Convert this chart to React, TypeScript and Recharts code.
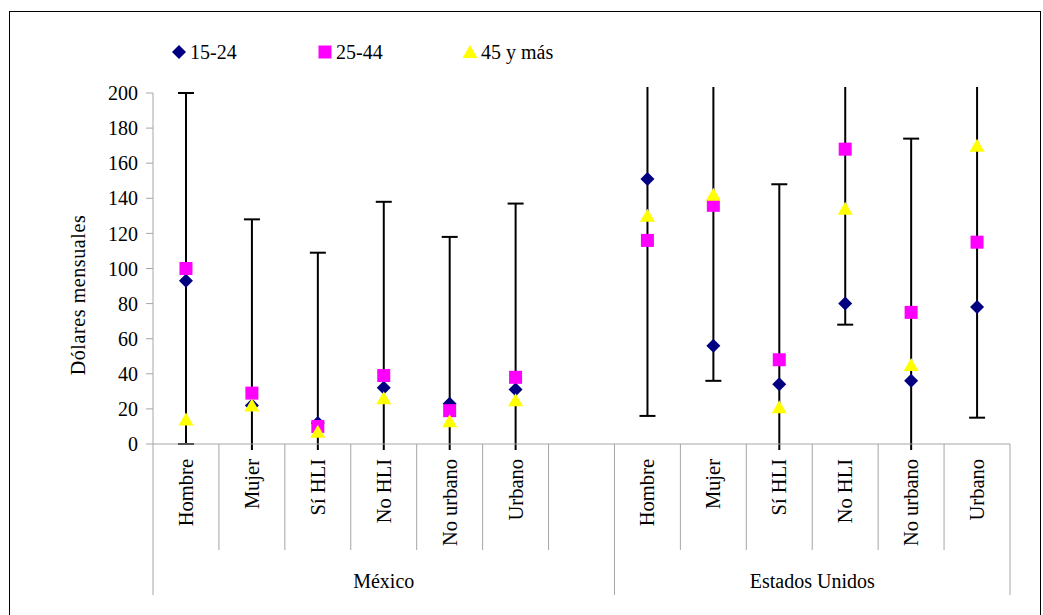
import { Bar, ComposedChart, Label, Legend, Line, XAxis, YAxis } from "recharts"

// categories along the bottom, two country groups with a blank slot between them
const groupNames = ["México", "Estados Unidos"]
const categories = ["Hombre", "Mujer", "Sí HLI", "No HLI", "No urbano", "Urbano"]
const slotLabels = [...categories, "", ...categories]
const slotGroup = [0, 0, 0, 0, 0, 0, 0, 1, 1, 1, 1, 1, 1]
const groupStart = [0, 7]
const groupSlots = [7, 6]

// dólares mensuales by age group
const age1524 = [93, 22, 12, 32, 23, 31, null, 151, 56, 34, 80, 36, 78]
const age2544 = [100, 29, 10, 39, 19, 38, null, 116, 136, 48, 168, 75, 115]
const age45 = [14, 22, 7, 26, 13, 25, null, 130, 142, 21, 134, 45, 170]

// range bars (low / high); values outside 0-200 run off the plot
const errLow = [0, -15, -15, -15, -15, -15, null, 16, 36, -15, 68, -15, 15]
const errHigh = [200, 128, 109, 138, 118, 137, null, 230, 230, 148, 230, 174, 230]

const yTicks = [0, 20, 40, 60, 80, 100, 120, 140, 160, 180, 200]
const Y_MIN = 0
const Y_MAX = 200

const FONT = "Liberation Serif, Times New Roman, serif"
const AXIS_GRAY = "#a6a6a6"

const series = [
  { key: "a", name: "15-24", color: "#000080", shape: "diamond" },
  { key: "b", name: "25-44", color: "#ff00ff", shape: "square" },
  { key: "c", name: "45 y más", color: "#ffff00", shape: "triangle" },
]

const data = slotLabels.map((label, i) => {
  const lo = errLow[i]
  const hi = errHigh[i]
  return {
    key: `slot${i}`,
    label,
    a: age1524[i],
    b: age2544[i],
    c: age45[i],
    err: lo === null || hi === null ? null : [Math.max(lo, Y_MIN), Math.min(hi, Y_MAX)],
    loOpen: lo !== null && lo < Y_MIN,
    hiOpen: hi !== null && hi > Y_MAX,
  }
})

function marker(shape: string, cx: number, cy: number, color: string) {
  if (shape === "diamond") {
    return <path d={`M${cx},${cy - 7} L${cx + 7},${cy} L${cx},${cy + 7} L${cx - 7},${cy} Z`} fill={color} />
  }
  if (shape === "square") {
    return <rect x={cx - 6.5} y={cy - 6.5} width={13} height={13} fill={color} />
  }
  return <path d={`M${cx},${cy - 7} L${cx + 7.5},${cy + 6} L${cx - 7.5},${cy + 6} Z`} fill={color} />
}

const makeDot = (shape: string, color: string) => (props: any) => {
  const { cx, cy, value, index } = props
  if (value === null || value === undefined || cx == null || cy == null) return <g key={index} />
  return <g key={index}>{marker(shape, cx, cy, color)}</g>
}

function RangeShape(props: any) {
  const { x, y, width, height, payload } = props
  if (!payload || payload.err === null || height == null) return <g />
  const cx = x + width / 2
  const top = payload.hiOpen ? y - 6 : y
  const bottom = payload.loOpen ? y + height + 6 : y + height
  return (
    <g>
      <line x1={cx} x2={cx} y1={top} y2={bottom} stroke="#000" strokeWidth={2} />
      {!payload.hiOpen && <line x1={cx - 8} x2={cx + 8} y1={y} y2={y} stroke="#000" strokeWidth={2} />}
      {!payload.loOpen && <line x1={cx - 8} x2={cx + 8} y1={y + height} y2={y + height} stroke="#000" strokeWidth={2} />}
    </g>
  )
}

function CategoryTick(props: any) {
  const { x, y, payload } = props
  const i = payload.index ?? props.index
  const off = payload.offset ?? 33
  const g = slotGroup[i]
  const isStart = groupStart[g] === i
  const isLast = i === slotLabels.length - 1
  return (
    <g>
      <line x1={x - off} x2={x - off} y1={y} y2={y + (isStart ? 151 : 106)} stroke={AXIS_GRAY} />
      {isLast && <line x1={x + off} x2={x + off} y1={y} y2={y + 151} stroke={AXIS_GRAY} />}
      {slotLabels[i] && (
        <text
          transform={`translate(${x + 7}, ${y + 15}) rotate(-90)`}
          textAnchor="end"
          fontFamily={FONT}
          fontSize={20.5}
          fill="#000"
        >
          {slotLabels[i]}
        </text>
      )}
      {isStart && (
        <text
          x={x - off + groupSlots[g] * off}
          y={y + 144}
          textAnchor="middle"
          fontFamily={FONT}
          fontSize={20}
          fill="#000"
        >
          {groupNames[g]}
        </text>
      )}
    </g>
  )
}

function LegendContent() {
  const lefts = [171, 317, 462]
  return (
    <div style={{ position: "relative", width: 1043, height: 26, fontFamily: FONT }}>
      {series.map((s, i) => (
        <div
          key={s.key}
          style={{
            position: "absolute",
            left: lefts[i],
            top: 0,
            height: 26,
            display: "flex",
            alignItems: "center",
            fontFamily: FONT,
            fontSize: 20,
            color: "#000",
            whiteSpace: "nowrap",
          }}
        >
          <svg width={16} height={16} style={{ marginRight: 3 }}>
            {marker(s.shape, 8, 8, s.color)}
          </svg>
          <span style={{ fontFamily: FONT }}>{s.name}</span>
        </div>
      ))}
    </div>
  )
}

export default function App() {
  return (
    <div style={{ position: "absolute", left: 0, top: 0, width: 1043, height: 615, background: "#fff" }}>
      <div
        style={{
          position: "absolute",
          left: 9,
          top: 11,
          width: 1030,
          height: 604,
          borderTop: "1px solid #000",
          borderLeft: "1px solid #000",
          borderRight: "1px solid #000",
        }}
      />
      <ComposedChart
        width={1043}
        height={615}
        data={data}
        margin={{ top: 93, right: 33, bottom: 11, left: 93 }}
        style={{ position: "absolute", left: 0, top: 0 }}
      >
        <XAxis
          dataKey="key"
          type="category"
          interval={0}
          height={160}
          tickSize={0}
          tickMargin={0}
          tickLine={false}
          axisLine={{ stroke: AXIS_GRAY }}
          tick={<CategoryTick />}
        />
        <YAxis
          type="number"
          domain={[Y_MIN, Y_MAX]}
          ticks={yTicks}
          interval={0}
          width={60}
          tickSize={7}
          tickMargin={8}
          axisLine={{ stroke: AXIS_GRAY }}
          tickLine={{ stroke: AXIS_GRAY }}
          tick={{ fontFamily: FONT, fontSize: 20, fill: "#000" }}
        >
          <Label
            content={(p: any) => {
              const vb = p.viewBox
              const cx = vb.x - 8
              const cy = vb.y + 202
              return (
                <text
                  transform={`translate(${cx}, ${cy}) rotate(-90)`}
                  textAnchor="middle"
                  fontFamily={FONT}
                  fontSize={20}
                  letterSpacing={0.6}
                  fill="#000"
                >
                  Dólares mensuales
                </text>
              )
            }}
          />
        </YAxis>
        <Legend
          layout="vertical"
          align="center"
          verticalAlign="middle"
          wrapperStyle={{ left: 0, top: 39, width: 1043, fontFamily: FONT }}
          content={<LegendContent />}
        />
        <Bar dataKey="err" barSize={16} shape={<RangeShape />} isAnimationActive={false} legendType="none" />
        {series.map((s) => (
          <Line
            key={s.key}
            dataKey={s.key}
            name={s.name}
            stroke="none"
            dot={makeDot(s.shape, s.color)}
            activeDot={false}
            isAnimationActive={false}
            legendType="none"
          />
        ))}
      </ComposedChart>
    </div>
  )
}
